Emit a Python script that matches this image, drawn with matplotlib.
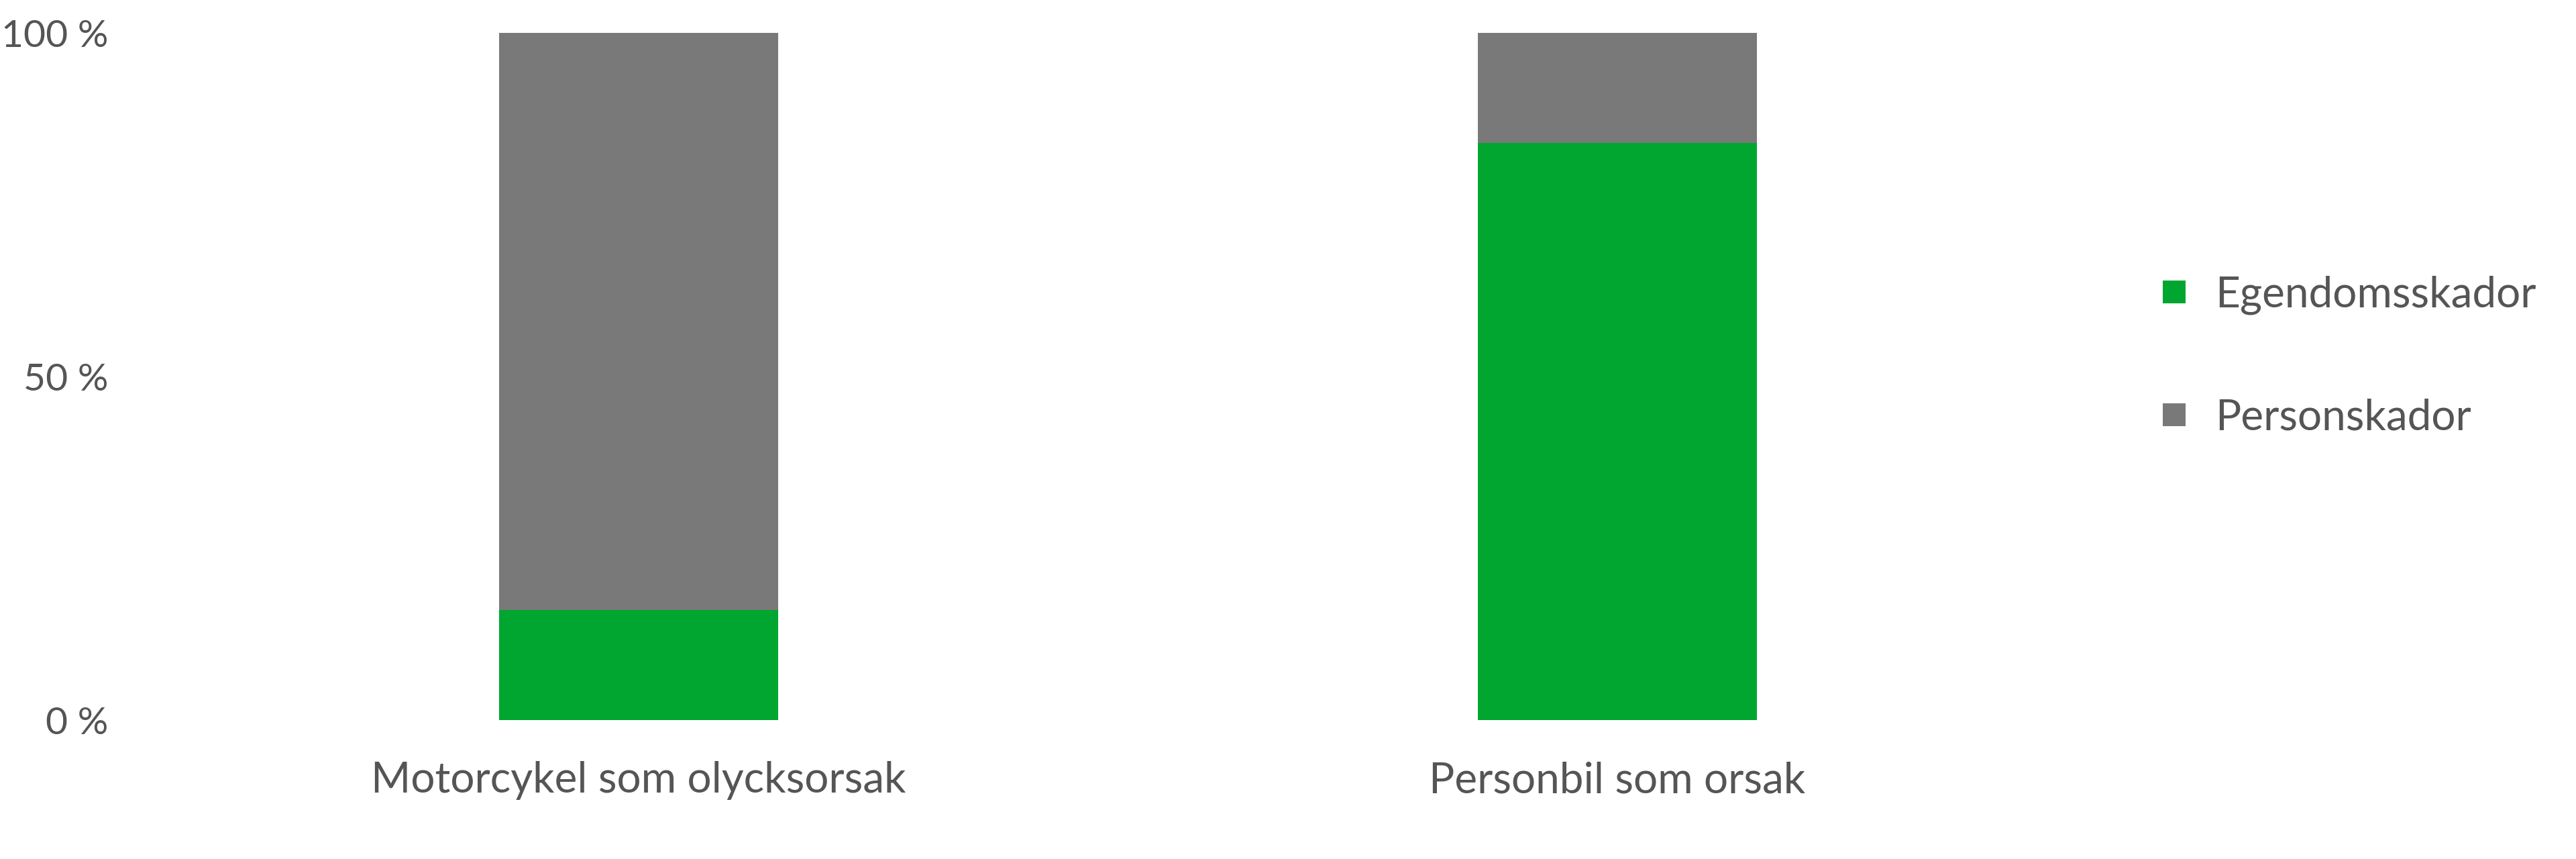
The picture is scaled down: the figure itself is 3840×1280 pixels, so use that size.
import matplotlib
matplotlib.use("Agg")
import matplotlib.pyplot as plt
from matplotlib.lines import Line2D

categories = ["Motorcykel som olycksorsak", "Personbil som orsak"]
egendom = [16, 84]
person = [84, 16]
series_names = ["Egendomsskador", "Personskador"]
yticks = [0, 50, 100]
ytick_labels = ["0 %", "50 %", "100 %"]

GREEN = "#00A62F"
GRAY = "#797979"
TEXT = "#555555"
FS = 46

plt.rcParams["font.family"] = ["Lato", "DejaVu Sans"]

W, H = 3840, 1280
fig = plt.figure(figsize=(W / 100, H / 100), dpi=100)
L, R = 200, 3160
bottom_px, top_px = 1073, 49
ax = fig.add_axes([L / W, 1 - bottom_px / H, (R - L) / W, (bottom_px - top_px) / H])

x = list(range(len(categories)))
bw = 0.285
ax.bar(x, egendom, width=bw, color=GREEN, label=series_names[0])
ax.bar(x, person, width=bw, bottom=egendom, color=GRAY, label=series_names[1])

scale = 1459
x0 = -(952 - L) / scale
ax.set_xlim(x0, x0 + (R - L) / scale)
ax.set_ylim(0, 100)
ax.set_xticks(x)
ax.set_xticklabels(categories, fontsize=FS, color=TEXT)
ax.set_yticks(yticks)
ax.set_yticklabels(ytick_labels, fontsize=41, color=TEXT)
ax.tick_params(axis="both", length=0)
ax.tick_params(axis="y", pad=28)
ax.tick_params(axis="x", pad=44)
for s in ax.spines.values():
    s.set_visible(False)

handles = [Line2D([], [], marker="s", linestyle="none", markersize=23.8, color=c, markeredgewidth=0)
           for c in (GREEN, GRAY)]
fig.legend(handles, series_names, loc="center left", bbox_to_anchor=(3222 / W, 1 - 531 / H),
           frameon=False, fontsize=FS, labelcolor=TEXT, handlelength=0.6, handletextpad=0.65,
           labelspacing=1.95, borderpad=0, borderaxespad=0)

fig.savefig("out.png", dpi=100)
